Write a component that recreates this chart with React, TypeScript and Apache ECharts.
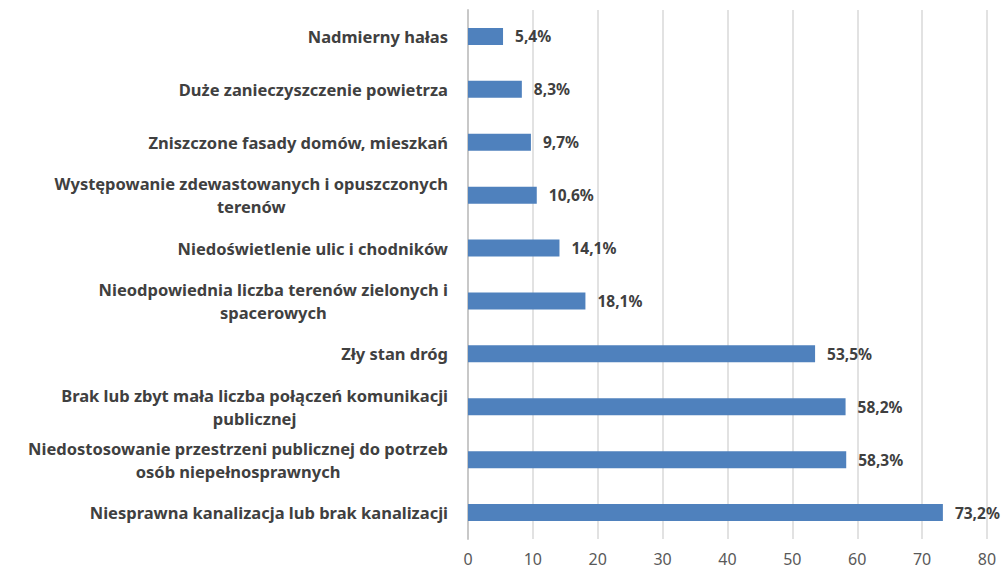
import React, { useEffect, useRef } from "react";
import * as echarts from "echarts";

const categories: string[] = [
  "Nadmierny hałas",
  "Duże zanieczyszczenie powietrza",
  "Zniszczone fasady domów, mieszkań",
  "Występowanie zdewastowanych i opuszczonych\nterenów",
  "Niedoświetlenie ulic i chodników",
  "Nieodpowiednia liczba terenów zielonych i\nspacerowych",
  "Zły stan dróg",
  "Brak lub zbyt mała liczba połączeń komunikacji\npublicznej",
  "Niedostosowanie przestrzeni publicznej do potrzeb\nosób niepełnosprawnych",
  "Niesprawna kanalizacja lub brak kanalizacji",
];

const values: number[] = [5.4, 8.3, 9.7, 10.6, 14.1, 18.1, 53.5, 58.2, 58.3, 73.2];

const xTicks = { min: 0, max: 80, interval: 10 };

export default function App() {
  const ref = useRef<HTMLDivElement>(null);
  useEffect(() => {
    document.body.style.margin = "0";
    const chart = echarts.init(ref.current!, null, { renderer: "svg" });
    const font = "Noto Sans";
    const labelStyle = {
      color: "#404040",
      fontSize: 16.5,
      fontWeight: "bold",
      fontFamily: font,
      lineHeight: 23,
    };
    chart.setOption({
      animation: false,
      grid: { left: 468, right: 21, top: 10, bottom: 33, containLabel: false },
      xAxis: {
        type: "value",
        min: xTicks.min,
        max: xTicks.max,
        interval: xTicks.interval,
        axisLine: { show: false },
        axisTick: { show: false },
        splitLine: { show: true, lineStyle: { color: "#d9d9d9", width: 1.5 } },
        axisLabel: {
          color: "#595959",
          fontSize: 16,
          fontFamily: font,
          margin: 12,
        },
      },
      yAxis: {
        type: "category",
        data: categories,
        inverse: true,
        axisLine: { show: true, lineStyle: { color: "#c8c8c8", width: 2 } },
        axisTick: { show: false },
        axisLabel: {
          ...labelStyle,
          margin: 20,
          formatter: (v: string) => {
            const parts = v.split("\n");
            if (parts.length === 1) return `{a|${parts[0]}}`;
            return `{a|${parts[0]}}\n{c|${parts[1]}}`;
          },
          rich: {
            a: { ...labelStyle },
            c: { ...labelStyle, align: "center" },
          },
        },
      },
      series: [
        {
          type: "bar",
          data: values,
          barWidth: 17,
          itemStyle: { color: "#4f81bd" },
          label: {
            show: true,
            position: "right",
            distance: 12,
            color: "#404040",
            fontSize: 15.5,
            fontWeight: "bold",
            fontFamily: font,
            formatter: (p: any) => `${p.value.toFixed(1).replace(".", ",")}%`,
          },
        },
      ],
    });
    return () => chart.dispose();
  }, []);
  return <div ref={ref} style={{ width: 1008, height: 572 }} />;
}
